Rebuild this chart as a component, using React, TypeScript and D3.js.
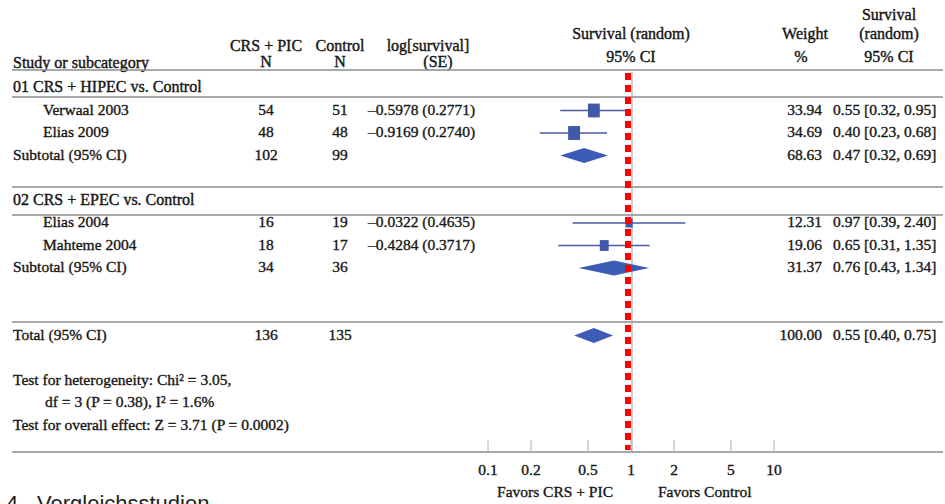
import React from 'react';
import * as d3 from 'd3';

// study rows
const studyNames = ['Verwaal 2003', 'Elias 2009', 'Elias 2004', 'Mahteme 2004'];
const studyRow = [1, 2, 6, 7];
const nTreat = [54, 48, 16, 18];
const nControl = [51, 48, 19, 17];
const logSurvival = ['–0.5978 (0.2771)', '–0.9169 (0.2740)', '–0.0322 (0.4635)', '–0.4284 (0.3717)'];
const estimate = [0.55, 0.4, 0.97, 0.65];
const lower = [0.32, 0.23, 0.39, 0.31];
const upper = [0.95, 0.68, 2.4, 1.35];
const weight = [33.94, 34.69, 12.31, 19.06];

// group headings
const groupLabels = ['01 CRS + HIPEC vs. Control', '02 CRS + EPEC vs. Control'];
const groupRow = [0, 5];

// pooled rows (two subtotals + total)
const pooledLabels = ['Subtotal (95% CI)', 'Subtotal (95% CI)', 'Total (95% CI)'];
const pooledRow = [3, 8, 11];
const pooledTreat = [102, 34, 136];
const pooledControl = [99, 36, 135];
const pooledEst = [0.47, 0.76, 0.55];
const pooledLow = [0.32, 0.43, 0.4];
const pooledHigh = [0.69, 1.34, 0.75];
const pooledWeight = [68.63, 31.37, 100.0];

const axisTicks = [0.1, 0.2, 0.5, 1, 2, 5, 10];

const W = 945;
const H = 504;
const serif = '"Liberation Serif", "Times New Roman", serif';
const blue = '#4258a8';
const ink = '#161616';

const fmt2 = d3.format('.2f');
const ciText = (e: number, l: number, h: number) => `${fmt2(e)} [${fmt2(l)}, ${fmt2(h)}]`;

export default function App() {
  const x = d3.scaleLog().domain([0.1, 10]).range([488, 774]);
  const rowY = d3.scaleLinear().domain([0, 1]).range([92, 114.5]); // text baseline per row
  const markY = (r: number) => rowY(r) - 4;
  const boxSize = d3.scaleSqrt().domain([0, 35]).range([0, 12]);

  const rules = [70, 97, 187, 215, 322];
  const axisY = 452;

  const colStudy = 13;
  const colIndent = 43;
  const colN1 = 266;
  const colN2 = 340;
  const colLog = 368;
  const colWeight = 822;
  const colCI = 833;

  // scanned look: slightly heavier strokes
  const txt = { fontFamily: serif, fontSize: 15.5, fill: ink, stroke: ink, strokeWidth: 0.35 } as const;
  const head = { fontFamily: serif, fontSize: 16, fill: ink, stroke: ink, strokeWidth: 0.4 } as const;

  return (
    <svg
      width={W}
      height={H}
      style={{ position: 'absolute', left: 0, top: 0, background: '#fff' }}
    >
      <rect width={W} height={H} fill="#fff" />

      {/* header */}
      <text {...head} x={colStudy} y={68}>Study or subcategory</text>
      <text {...head} x={colN1} y={51} textAnchor="middle">CRS + PIC</text>
      <text {...head} x={colN1} y={67} textAnchor="middle">N</text>
      <text {...head} x={colN2} y={51} textAnchor="middle">Control</text>
      <text {...head} x={colN2} y={67} textAnchor="middle">N</text>
      <text {...head} x={428} y={51} textAnchor="middle">log[survival]</text>
      <text {...head} x={438} y={67} textAnchor="middle">(SE)</text>
      <text {...head} x={x(1)} y={39} textAnchor="middle">Survival (random)</text>
      <text {...head} x={x(1)} y={62} textAnchor="middle">95% CI</text>
      <text {...head} x={805} y={39} textAnchor="middle">Weight</text>
      <text {...head} x={801} y={62} textAnchor="middle">%</text>
      <text {...head} x={889} y={20} textAnchor="middle">Survival</text>
      <text {...head} x={889} y={39} textAnchor="middle">(random)</text>
      <text {...head} x={889} y={62} textAnchor="middle">95% CI</text>

      {/* horizontal rules */}
      {rules.map((y, i) => (
        <line key={i} x1={12} x2={943} y1={y} y2={y} stroke="#8c8c8c" strokeWidth={1.6} />
      ))}
      <line x1={12} x2={943} y1={axisY} y2={axisY} stroke="#8c8c8c" strokeWidth={1.6} />

      {/* null line */}
      <line x1={x(1) + 1} x2={x(1) + 1} y1={72} y2={axisY} stroke="#9a9a9a" strokeWidth={1} />

      {/* group headings */}
      {groupLabels.map((g, i) => (
        <text key={g} {...head} x={colStudy} y={rowY(groupRow[i])}>{g}</text>
      ))}

      {/* studies */}
      {studyNames.map((s, i) => {
        const y = rowY(studyRow[i]);
        const my = markY(studyRow[i]);
        const b = boxSize(weight[i]);
        return (
          <g key={s}>
            <text {...txt} x={colIndent} y={y}>{s}</text>
            <text {...txt} x={colN1} y={y} textAnchor="middle">{nTreat[i]}</text>
            <text {...txt} x={colN2} y={y} textAnchor="middle">{nControl[i]}</text>
            <text {...txt} x={colLog} y={y}>{logSurvival[i]}</text>
            <line x1={x(lower[i])} x2={x(upper[i])} y1={my} y2={my} stroke="#4b5aa6" strokeWidth={1.6} />
            <rect x={x(estimate[i]) - b / 2} y={my - b / 2 - 1} width={b} height={b + 2} fill={blue} />
            <text {...txt} x={colWeight} y={y} textAnchor="end">{fmt2(weight[i])}</text>
            <text {...txt} x={colCI} y={y}>{ciText(estimate[i], lower[i], upper[i])}</text>
          </g>
        );
      })}

      {/* subtotals and total */}
      {pooledLabels.map((s, i) => {
        const y = rowY(pooledRow[i]);
        const my = markY(pooledRow[i]);
        const half = 7.5;
        const d = `M${x(pooledLow[i])},${my} L${x(pooledEst[i])},${my - half} L${x(pooledHigh[i])},${my} L${x(pooledEst[i])},${my + half} Z`;
        return (
          <g key={i}>
            <text {...txt} x={colStudy} y={y}>{s}</text>
            <text {...txt} x={colN1} y={y} textAnchor="middle">{pooledTreat[i]}</text>
            <text {...txt} x={colN2} y={y} textAnchor="middle">{pooledControl[i]}</text>
            <path d={d} fill="#3d5cb6" />
            <text {...txt} x={colWeight} y={y} textAnchor="end">{fmt2(pooledWeight[i])}</text>
            <text {...txt} x={colCI} y={y}>{ciText(pooledEst[i], pooledLow[i], pooledHigh[i])}</text>
          </g>
        );
      })}

      {/* red dashed reference line */}
      <line
        x1={x(1) - 3}
        x2={x(1) - 3}
        y1={73}
        y2={axisY - 2}
        stroke="#ff0000"
        strokeWidth={6}
        strokeDasharray="7 5"
      />

      {/* tests */}
      <text {...txt} x={colStudy} y={rowY(13)}>Test for heterogeneity: Chi² = 3.05,</text>
      <text {...txt} x={45} y={rowY(14)}>df = 3 (P = 0.38), I² = 1.6%</text>
      <text {...txt} x={colStudy} y={rowY(15)}>Test for overall effect: Z = 3.71 (P = 0.0002)</text>

      {/* axis */}
      {axisTicks.map((t) => (
        <g key={t}>
          <line x1={x(t)} x2={x(t)} y1={axisY - 12} y2={axisY} stroke="#b0b0b0" strokeWidth={1} />
          <text {...txt} x={x(t)} y={475} textAnchor="middle">{String(t)}</text>
        </g>
      ))}
      <text {...txt} x={x(1) - 18} y={497} textAnchor="end">Favors CRS + PIC</text>
      <text {...txt} x={x(1) + 27} y={497}>Favors Control</text>

      {/* caption cut off at the bottom, as in the source */}
      <text x={6} y={511} fontFamily='"Liberation Sans", Arial, sans-serif' fontSize={22} fill="#222">4.</text>
      <text x={37} y={511} fontFamily='"Liberation Sans", Arial, sans-serif' fontSize={22} fill="#222">Vergleichsstudien</text>
    </svg>
  );
}
